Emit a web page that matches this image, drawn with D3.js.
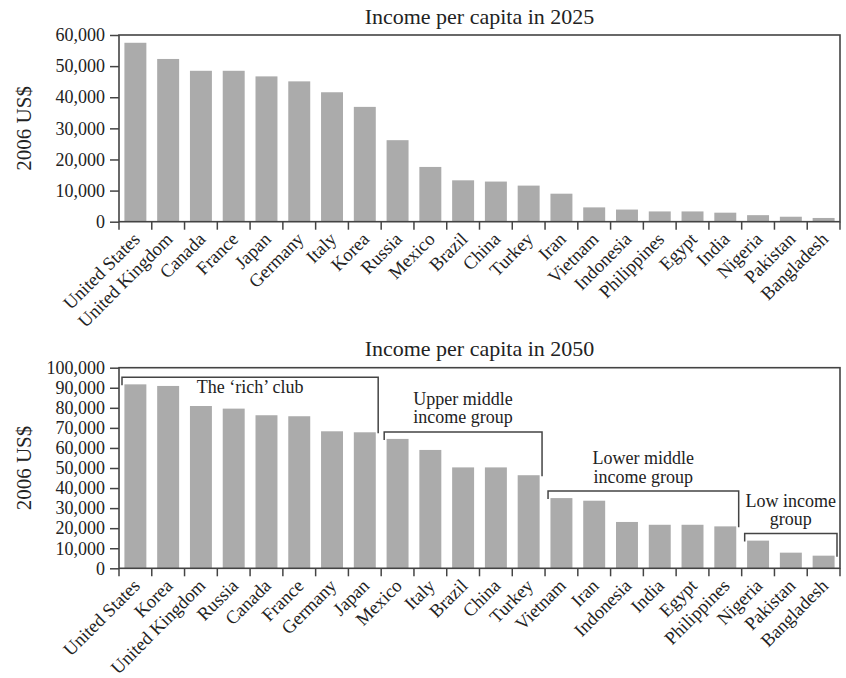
<!DOCTYPE html>
<html>
<head>
<meta charset="utf-8">
<script src="https://cdn.jsdelivr.net/npm/d3@7"></script>
<style>
  html, body { margin: 0; padding: 0; background: #fff; }
  svg { display: block; }
  text { font-family: "Liberation Serif", "Times New Roman", serif; fill: #222; }
</style>
</head>
<body>
<svg id="chart" width="846" height="678"></svg>
<script>
// ---- Data ----
const countries2025 = ["United States","United Kingdom","Canada","France","Japan","Germany","Italy","Korea","Russia","Mexico","Brazil","China","Turkey","Iran","Vietnam","Indonesia","Philippines","Egypt","India","Nigeria","Pakistan","Bangladesh"];
const income2025 = [57500, 52300, 48500, 48500, 46700, 45100, 41600, 36900, 26200, 17600, 13300, 12900, 11600, 9000, 4600, 3900, 3300, 3300, 2900, 2100, 1600, 1200];

const countries2050 = ["United States","Korea","United Kingdom","Russia","Canada","France","Germany","Japan","Mexico","Italy","Brazil","China","Turkey","Vietnam","Iran","Indonesia","India","Egypt","Philippines","Nigeria","Pakistan","Bangladesh"];
const income2050 = [91700, 90900, 80900, 79600, 76300, 75800, 68300, 67800, 64500, 59000, 50300, 50300, 46400, 35000, 33700, 23100, 21700, 21700, 20900, 13800, 7800, 6300];

const ticks2025 = [0, 10000, 20000, 30000, 40000, 50000, 60000];
const ticks2050 = [0, 10000, 20000, 30000, 40000, 50000, 60000, 70000, 80000, 90000, 100000];

const titles = ["Income per capita in 2025", "Income per capita in 2050"];
const yAxisLabel = "2006 US$";

const groupLabels = [["The \u2018rich\u2019 club"], ["Upper middle", "income group"], ["Lower middle", "income group"], ["Low income", "group"]];
const groupFirst = ["United States", "Mexico", "Vietnam", "Nigeria"];
const groupLast = ["Japan", "Turkey", "Philippines", "Bangladesh"];

// ---- Drawing ----
const svg = d3.select("#chart");
const left = 119, right = 840;
const barColor = "#ababab", lineColor = "#444";

function drawChart(cats, vals, ticks, top, bottom, title) {
  const g = svg.append("g");
  const x = d3.scaleBand().domain(cats).range([left, right]).paddingInner(0.33).paddingOuter(0.165);
  const y = d3.scaleLinear().domain([0, d3.max(ticks)]).range([bottom, top]);

  // bars
  g.selectAll("rect.bar").data(cats).join("rect")
    .attr("class", "bar")
    .attr("x", d => x(d))
    .attr("width", x.bandwidth())
    .attr("y", (d, i) => y(vals[i]))
    .attr("height", (d, i) => bottom - y(vals[i]))
    .attr("fill", barColor);

  // frame
  g.append("rect")
    .attr("x", left).attr("y", top)
    .attr("width", right - left).attr("height", bottom - top)
    .attr("fill", "none").attr("stroke", lineColor).attr("stroke-width", 1.6);

  // y axis
  const ya = g.append("g").attr("transform", `translate(${left},0)`)
    .call(d3.axisLeft(y).tickValues(ticks).tickSize(9).tickPadding(5).tickFormat(d3.format(",")));
  ya.select(".domain").remove();
  ya.selectAll(".tick line").attr("stroke", lineColor).attr("stroke-width", 1.5);
  ya.selectAll(".tick text").attr("font-size", 18).attr("fill", "#222")
    .attr("font-family", "'Liberation Serif', serif");

  // x axis labels
  const xa = g.append("g").attr("transform", `translate(0,${bottom})`)
    .call(d3.axisBottom(x).tickSize(0).tickPadding(0));
  xa.select(".domain").remove();
  xa.selectAll(".tick text")
    .attr("font-size", 18.5).attr("fill", "#222")
    .attr("font-family", "'Liberation Serif', serif")
    .attr("text-anchor", "end")
    .attr("x", 0).attr("y", 0).attr("dy", "0.35em")
    .attr("transform", "translate(1,14) rotate(-45)");

  // band boundary ticks
  const step = x.step();
  const bounds = d3.range(cats.length + 1).map(i => i < cats.length ? x(cats[i]) - step * x.paddingOuter() : x(cats[cats.length - 1]) + x.bandwidth() + step * x.paddingOuter());
  g.selectAll("line.btick").data(bounds).join("line")
    .attr("class", "btick")
    .attr("x1", d => d).attr("x2", d => d)
    .attr("y1", bottom).attr("y2", bottom + 8)
    .attr("stroke", lineColor).attr("stroke-width", 1.5);

  // title
  g.append("text")
    .attr("x", (left + right) / 2).attr("y", top - 11.5)
    .attr("text-anchor", "middle").attr("font-size", 22)
    .text(title);

  // y label
  g.append("text")
    .attr("transform", `translate(31,${(top + bottom) / 2}) rotate(-90)`)
    .attr("text-anchor", "middle").attr("font-size", 21)
    .text(yAxisLabel);

  return { x, y, g, step };
}

drawChart(countries2025, income2025, ticks2025, 35, 221.7, titles[0]);
const c2 = drawChart(countries2050, income2050, ticks2050, 367.7, 568.3, titles[1]);

// group brackets on 2050 chart
groupLabels.forEach((lines, k) => {
  const { x, y, g, step } = c2;
  const i0 = countries2050.indexOf(groupFirst[k]);
  const i1 = countries2050.indexOf(groupLast[k]);
  const xa = x(groupFirst[k]) - step * x.paddingOuter() + 3;
  const xb = x(groupLast[k]) + x.bandwidth() + step * x.paddingOuter() - 3;
  const ly = y(d3.max(income2050.slice(i0, i1 + 1))) - 7;
  g.append("path")
    .attr("d", `M${xa},${y(income2050[i0]) + 1}V${ly}H${xb}V${y(income2050[i1]) + 1}`)
    .attr("fill", "none").attr("stroke", lineColor).attr("stroke-width", 1.5);
  const cx = (xa + xb) / 2;
  if (k === 0) {
    g.append("text").attr("x", cx).attr("y", ly + 16)
      .attr("text-anchor", "middle").attr("font-size", 18).text(lines[0]);
  } else {
    lines.forEach((t, j) => {
      g.append("text").attr("x", cx)
        .attr("y", ly - 8.5 - (lines.length - 1 - j) * 18.5)
        .attr("text-anchor", "middle").attr("font-size", 18).text(t);
    });
  }
});
</script>
</body>
</html>
